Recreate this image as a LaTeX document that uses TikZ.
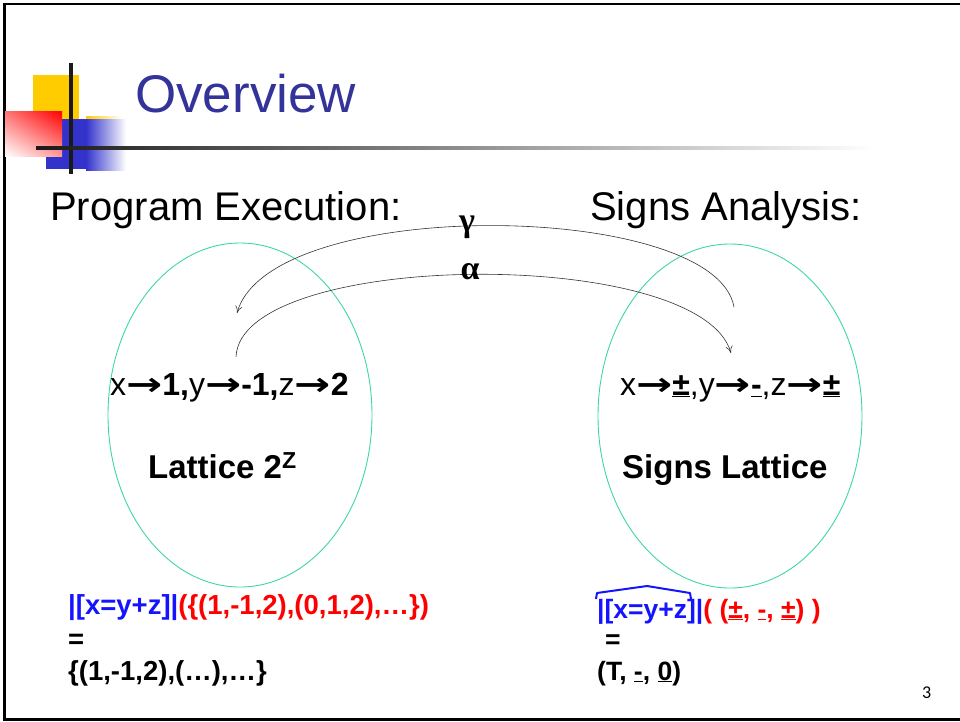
\documentclass[tikz,border=0pt]{standalone}
\usepackage{fontspec}
\usepackage{graphicx}
\setmainfont{Liberation Sans}
\newfontfamily\arrfont{DejaVu Sans}
\newfontfamily\grkfont{Liberation Serif}
\newfontfamily\numfont{Carlito}
\usetikzlibrary{arrows.meta,shapes.geometric,shadings}
\definecolor{ttl}{RGB}{51,51,153}
\definecolor{ell}{RGB}{60,215,165}
\definecolor{myblue}{RGB}{20,20,255}
\definecolor{myred}{RGB}{255,0,0}
\definecolor{logoyel}{RGB}{255,204,0}
\definecolor{logoblue}{RGB}{51,51,204}
\definecolor{logoblk}{RGB}{26,26,26}
\newcommand{\myar}{\scalebox{1.35}[1]{\arrfont\bfseries →}}
\tikzset{
  txt/.style={anchor=base west, inner sep=0pt},
  head/.style={txt, font=\fontsize{40}{46}\selectfont},
  mapf/.style={txt, font=\fontsize{32}{38}\selectfont},
  latf/.style={txt, font=\bfseries\fontsize{33}{38}\selectfont},
  botf/.style={txt, font=\bfseries\fontsize{27.5}{32}\selectfont},
  botr/.style={txt, font=\bfseries\fontsize{26.5}{32}\selectfont},
  lattice/.style={ellipse, draw=ell, line width=0.9pt, minimum width=264pt, minimum height=344pt, inner sep=0pt},
  maparrow/.style={draw=black!80, line width=0.6pt, -{To[length=7pt,width=7pt]}},
  grk/.style={inner sep=0pt, font=\grkfont\bfseries\fontsize{34}{38}\selectfont}
}
\begin{document}
\begin{tikzpicture}[x=1pt,y=-1pt]
\useasboundingbox (0,0) rectangle (960,721);
% frame
\draw[line width=2.5pt, black] (960,4) -- (4.5,4) -- (4.5,719.5) -- (960,719.5);
% logo
\fill[logoyel] (33,75) rectangle (79,120);
\shade[left color=logoyel, right color=white] (86,116.5) rectangle (122,119);
\fill[logoblue] (46,119) rectangle (86,169);
\shade[left color=logoblue, right color=white] (86,119) rectangle (126,170);
\shade[shading=bilinear interpolation, upper right=red, upper left=red!55!white, lower left=white, lower right=red!40!white] (5,111) rectangle (62,156);
\fill[logoblk] (69.3,63) rectangle (72.8,174);
\shade[left color=logoblk, right color=white] (36,146.5) rectangle (875,149.5);
% title
\node[txt, font=\fontsize{53}{60}\selectfont, text=ttl] (title) at (135,112) {Overview};
% headings
\node[head] (pe) at (50,220) {Program Execution:};
\node[head] (sa) at (590,220) {Signs Analysis:};
% ellipses
\node[lattice] (E1) at (240,415) {};
\node[lattice] (E2) at (730,416) {};
% mappings
\node[mapf] (m1) at (110,395) {x\myar\textbf{1,}y\myar\textbf{-1,}z\myar\textbf{2}};
\node[mapf] (m2) at (620,395) {x\myar\underline{\textbf{±}},y\myar\underline{\textbf{-}},z\myar\underline{\textbf{±}}};
\node[latf] (l1) at (148,478) {Lattice 2\textsuperscript{Z}};
\node[latf] (l2) at (622,478) {Signs Lattice};
% gamma / alpha
\coordinate (gs) at (734,307);
\coordinate (ge) at (237,313);
\coordinate (as) at (236,357);
\coordinate (ae) at (731,353);
\draw[maparrow] (gs) .. controls (715,200) and (270,195) .. (ge);
\draw[maparrow] (as) .. controls (240,250) and (700,245) .. (ae);
\node[grk] (gam) at (467,227) {γ};
\node[grk] (alp) at (470,272) {α};
% bottom left
\node[botf] (b1) at (68,614) {\textcolor{myblue}{|[x=y+z]|}\textcolor{myred}{(\{(1,-1,2),(0,1,2),…\})}};
\node[botf] (b2) at (68,648) {=};
\node[botf] (b3) at (68,680) {\{(1,-1,2),(…),…\}};
% bottom right
\node[botr] (b4) at (597,618) {\textcolor{myblue}{|[x=y+z]|}\textcolor{myred}{( (\underline{±}, \underline{-}, \underline{±}) )}};
\draw[myblue, line width=2pt, line join=round] (596,599) -- (597,593) -- (647,586) -- (690,593) -- (691,599);
\node[botr] (b5) at (605,648) {=};
\node[botr] (b6) at (597,680) {(T, \underline{-}, \underline{0})};
% slide number
\node[txt, font=\numfont\fontsize{18}{20}\selectfont] (num) at (922,698) {3};
\end{tikzpicture}
\end{document}
